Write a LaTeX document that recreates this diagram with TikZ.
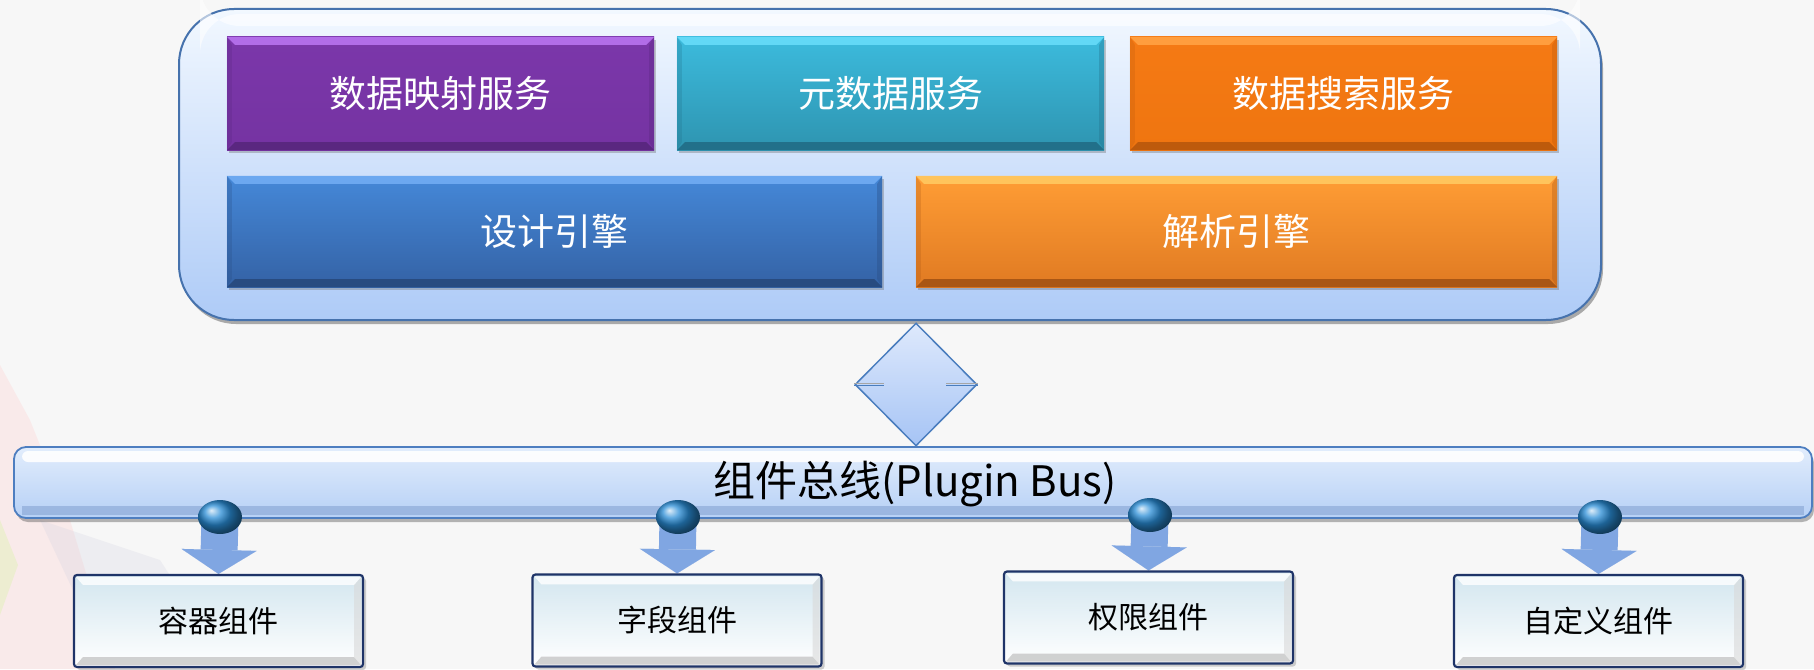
\documentclass[tikz,border=0pt]{standalone}
\usepackage{fontspec}
\setmainfont{Noto Sans CJK SC}
\usetikzlibrary{shapes.geometric,shadows,arrows.meta}
\pgfdeclarelayer{back}
\pgfdeclarelayer{bg}
\pgfsetlayers{back,bg,main}
\definecolor{bgc}{HTML}{F7F7F7}
\definecolor{contb}{HTML}{4672AD}
\definecolor{contA}{HTML}{F2F8FF}\definecolor{contM}{HTML}{D6E6FB}\definecolor{contB}{HTML}{AECBF7}
\definecolor{purA}{HTML}{7B37AA}\definecolor{purB}{HTML}{7533A2}\definecolor{purL}{HTML}{B26DE8}\definecolor{purD}{HTML}{5A2780}
\definecolor{tealA}{HTML}{3CBBDD}\definecolor{tealB}{HTML}{2E94B0}\definecolor{tealL}{HTML}{62D8F6}\definecolor{tealD}{HTML}{22708A}
\definecolor{orA}{HTML}{F57A14}\definecolor{orB}{HTML}{EF7510}\definecolor{orL}{HTML}{FF9E3E}\definecolor{orD}{HTML}{BD5A0C}
\definecolor{bluA}{HTML}{4588D8}\definecolor{bluB}{HTML}{3462A5}\definecolor{bluL}{HTML}{6CA8F0}\definecolor{bluD}{HTML}{284B80}
\definecolor{or2A}{HTML}{FF9D35}\definecolor{or2B}{HTML}{E07A22}\definecolor{or2L}{HTML}{FFC45C}\definecolor{or2D}{HTML}{A95614}
\definecolor{busb}{HTML}{4E7EC0}
\definecolor{busA}{HTML}{E2EDFC}\definecolor{busB}{HTML}{B6D0F6}\definecolor{busD}{HTML}{8EABD8}
\definecolor{navy}{HTML}{1F3468}
\definecolor{compA}{HTML}{D3E6EF}
\definecolor{arrc}{HTML}{80A6E2}
\definecolor{ballc}{HTML}{2A8DD6}
\definecolor{diab}{HTML}{4A7DBE}
\definecolor{diaA}{HTML}{DEE9FC}\definecolor{diaB}{HTML}{A6C4F5}
\newcommand\mybevel[3]{%
  \fill[#2] (#1.north west) -- (#1.north east) -- ([shift={(-8,8)}]#1.north east) -- ([shift={(8,8)}]#1.north west) -- cycle;
  \fill[#3] (#1.south west) -- (#1.south east) -- ([shift={(-8,-8)}]#1.south east) -- ([shift={(8,-8)}]#1.south west) -- cycle;
  \fill[#3,opacity=0.35] (#1.north east) -- (#1.south east) -- ([shift={(-5,-8)}]#1.south east) -- ([shift={(-5,8)}]#1.north east) -- cycle;
  \fill[#3,opacity=0.25] (#1.north west) -- (#1.south west) -- ([shift={(5,-8)}]#1.south west) -- ([shift={(5,8)}]#1.north west) -- cycle;
}
\begin{document}
\begin{tikzpicture}[x=1pt,y=-1pt,
  topbox/.style={rectangle, inner sep=0pt, text=white, font=\fontsize{37}{40}\selectfont,
    drop shadow={shadow xshift=2pt, shadow yshift=-3pt, opacity=0.35, fill=black!60}},
  compbox/.style={rectangle, rounded corners=3pt, inner sep=0pt, draw=navy, line width=2.2pt,
    top color=compA, bottom color=white, minimum width=289pt, minimum height=92pt,
    drop shadow={shadow xshift=3pt, shadow yshift=-3pt, opacity=0.3, fill=black!60}},
  ballnode/.style={ellipse, minimum width=44pt, minimum height=34pt, inner sep=0pt, ball color=ballc},
  arrowline/.style={draw=arrc, line width=37pt, -{Triangle[width=75pt,length=24pt,line width=0.01pt]}}
]
\useasboundingbox (0,0) rectangle (1814,669);
\begin{pgfonlayer}{back}
  \fill[bgc] (0,0) rectangle (1814,669);
  \fill[pink!70!red!40, opacity=0.3] (0,365) -- (30,420) -- (70,520) -- (115,669) -- (0,669) -- cycle;
  \fill[blue!20!gray!30, opacity=0.25] (40,520) -- (160,560) -- (230,669) -- (110,669) -- cycle;
  \fill[yellow!60!green!30, opacity=0.45] (0,520) -- (18,565) -- (0,615) -- cycle;
\end{pgfonlayer}

% container
\node[rectangle, rounded corners=55pt, minimum width=1422pt, minimum height=311pt, inner sep=0pt,
  draw=contb, line width=2pt, top color=contA, middle color=contM, bottom color=contB,
  drop shadow={shadow xshift=2pt, shadow yshift=-4pt, opacity=0.45, fill=black!70}] (cont) at (890,164.5) {};
\fill[white, opacity=0.6, rounded corners=40pt] (200,14) -- (1580,14) -- (1580,26) -- (200,26) -- cycle;

% top boxes
\node[topbox, minimum width=427pt, minimum height=113pt, top color=purA, bottom color=purB] (s1) at (440.5,93.5) {数据映射服务};
\node[topbox, minimum width=427pt, minimum height=113pt, top color=tealA, bottom color=tealB] (s2) at (890.5,93.5) {元数据服务};
\node[topbox, minimum width=427pt, minimum height=113pt, top color=orA, bottom color=orB] (s3) at (1343.5,93.5) {数据搜索服务};
\node[topbox, minimum width=655pt, minimum height=111pt, top color=bluA, bottom color=bluB] (e1) at (554.5,231.5) {设计引擎};
\node[topbox, minimum width=641pt, minimum height=111pt, top color=or2A, bottom color=or2B] (e2) at (1236.5,231.5) {解析引擎};
\mybevel{s1}{purL}{purD}
\mybevel{s2}{tealL}{tealD}
\mybevel{s3}{orL}{orD}
\mybevel{e1}{bluL}{bluD}
\mybevel{e2}{or2L}{or2D}

% double arrow (diamond)
\node[diamond, aspect=1, minimum width=122pt, minimum height=123pt, inner sep=0pt, draw=diab, line width=1.5pt,
  top color=diaA, bottom color=diaB] (dia) at (916,384.5) {};
\draw[diab, line width=1.2pt] ([yshift=-1.2]dia.west) -- ++(30,0);
\draw[gray!70, line width=1.2pt] ([yshift=1.2]dia.west) -- ++(30,0);
\draw[diab, line width=1.2pt] ([yshift=-1.2]dia.east) -- ++(-32,0);
\draw[gray!70, line width=1.2pt] ([yshift=1.2]dia.east) -- ++(-32,0);

% bus
\node[rectangle, rounded corners=12pt, minimum width=1798pt, minimum height=71pt, inner sep=0pt,
  draw=busb, line width=1.8pt, top color=busA, bottom color=busB,
  drop shadow={shadow xshift=2pt, shadow yshift=-4pt, opacity=0.4, fill=black!70}] (bus) at (913,482.5) {};
\fill[white, opacity=0.9, rounded corners=6pt] (22,451) rectangle (1804,462);
\fill[busD, opacity=0.7] (22,506) rectangle (1804,515);
\node[font=\fontsize{42}{44}\selectfont, text=black] (bustext) at (915,484) {组件总线(Plugin Bus)};

% components
\node[compbox] (b1) at (218.5,621) {};
\node[compbox] (b2) at (677,620.5) {};
\node[compbox] (b3) at (1148.5,617.5) {};
\node[compbox] (b4) at (1598.5,621) {};
\foreach \b in {b1,b2,b3,b4}{
  \fill[gray!45, opacity=0.8] ([shift={(3,-3)}]\b.south west) -- ([shift={(-3,-3)}]\b.south east) -- ([shift={(-10,-11)}]\b.south east) -- ([shift={(10,-11)}]\b.south west) -- cycle;
  \fill[gray!30, opacity=0.6] ([shift={(-3,3)}]\b.north east) -- ([shift={(-3,-3)}]\b.south east) -- ([shift={(-10,-11)}]\b.south east) -- ([shift={(-10,11)}]\b.north east) -- cycle;
  \fill[white, opacity=0.8] ([shift={(3,3)}]\b.north west) -- ([shift={(-3,3)}]\b.north east) -- ([shift={(-10,11)}]\b.north east) -- ([shift={(10,11)}]\b.north west) -- cycle;
}
\node[font=\fontsize{30}{32}\selectfont] (t1) at (b1.center) {容器组件};
\node[font=\fontsize{30}{32}\selectfont] (t2) at (b2.center) {字段组件};
\node[font=\fontsize{30}{32}\selectfont] (t3) at (b3.center) {权限组件};
\node[font=\fontsize{30}{32}\selectfont] (t4) at (b4.center) {自定义组件};

% balls
\node[ballnode] (c1) at (220,517) {};
\node[ballnode] (c2) at (678,517) {};
\node[ballnode] (c3) at (1150,515) {};
\node[ballnode] (c4) at (1600,517) {};

\begin{pgfonlayer}{bg}
  \draw[arrowline] (c1.center) -- (b1.north);
  \draw[arrowline] (c2.center) -- (b2.north);
  \draw[arrowline] (c3.center) -- (b3.north);
  \draw[arrowline] (c4.center) -- (b4.north);
\end{pgfonlayer}
\end{tikzpicture}
\end{document}
